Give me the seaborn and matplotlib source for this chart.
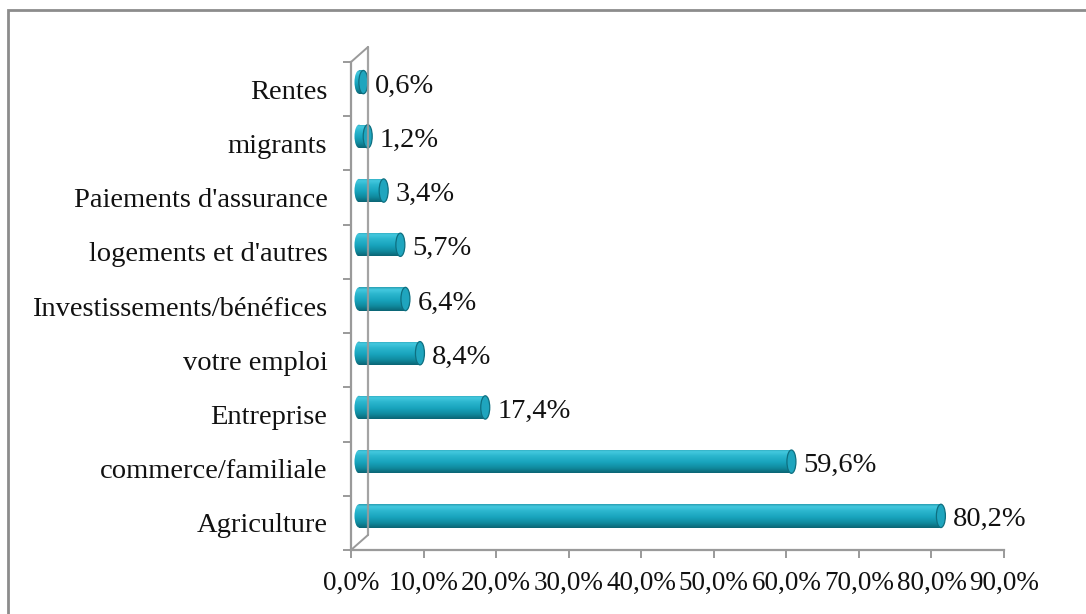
import numpy as np
import pandas as pd
import matplotlib
matplotlib.use("Agg")
import matplotlib.pyplot as plt
import matplotlib.transforms as mtrans
from matplotlib.patches import Ellipse, Rectangle, ConnectionPatch
from matplotlib.lines import Line2D
from matplotlib.colors import LinearSegmentedColormap
import seaborn as sns

categories = ["Rentes", "migrants", "Paiements d'assurance", "logements et d'autres",
              "Investissements/bénéfices", "votre emploi", "Entreprise",
              "commerce/familiale", "Agriculture"]
values = [0.6, 1.2, 3.4, 5.7, 6.4, 8.4, 17.4, 59.6, 80.2]
value_labels = ["0,6%", "1,2%", "3,4%", "5,7%", "6,4%", "8,4%", "17,4%", "59,6%", "80,2%"]
xticks = [0, 10, 20, 30, 40, 50, 60, 70, 80, 90]
xtick_labels = ["0,0%", "10,0%", "20,0%", "30,0%", "40,0%", "50,0%", "60,0%", "70,0%", "80,0%", "90,0%"]

df = pd.DataFrame({"cat": categories, "val": values})

sns.set_theme(style="white")
plt.rcParams["font.family"] = ["Liberation Serif", "DejaVu Serif"]
FS = 20.5

W, H, DPI = 1086, 614, 100
px = 1.0 / DPI
fig = plt.figure(figsize=(W / DPI, H / DPI), dpi=DPI)
ax = fig.add_axes([351 / W, (H - 550) / H, (1004 - 351) / W, (550 - 62) / H])

sns.barplot(data=df, x="val", y="cat", orient="h", color="#1a9db6", width=0.43,
            ax=ax, errorbar=None)
ax.set_xlim(0, 90)
ax.set_ylim(8.5, -0.5)

# 3D depth offset of the bars
off = ax.transData + mtrans.ScaledTranslation(8 * px, 7 * px, fig.dpi_scale_trans)
lab_off = off + mtrans.ScaledTranslation(12 * px, -4 * px, fig.dpi_scale_trans)

grad = np.linspace(0, 1, 64).reshape(-1, 1)
cyl = LinearSegmentedColormap.from_list("cyl", [
    (0.0, "#2a9fb3"), (0.1, "#44c9df"), (0.28, "#2cb6ce"), (0.55, "#18a4bd"),
    (0.8, "#10899d"), (1.0, "#0b6574")])

cap_w = 9 * 90 / (1004 - 351)  # cap ellipse width in data units
for i, p in enumerate(list(ax.patches)):
    x0, y0 = p.get_x(), p.get_y()
    w, h = p.get_width(), p.get_height()
    p.set_transform(off)
    p.set_facecolor("none")
    p.set_edgecolor("none")
    left = Ellipse((x0, y0 + h / 2), cap_w, h, transform=off, clip_on=False,
                   facecolor="none", edgecolor="none")
    ax.add_patch(left)
    ext = [x0 - cap_w, x0 + w, y0 + h, y0]
    for clip in (p, left):
        im = ax.imshow(grad, cmap=cyl, aspect="auto", extent=ext,
                       transform=off, zorder=3, interpolation="bilinear")
        im.set_clip_path(clip)
        im.set_clip_on(True)
    ax.add_patch(Ellipse((x0 + w, y0 + h / 2), cap_w, h, transform=off, clip_on=False,
                         facecolor="#1fa5be", edgecolor="#0e6f80", lw=0.9, zorder=4))
    ax.text(x0 + w, y0 + h / 2, value_labels[i], fontsize=FS, color="#111111",
            va="center", ha="left", clip_on=False, transform=lab_off)

ax.set_xlim(0, 90)
ax.set_ylim(8.5, -0.5)

gray = "#9a9a9a"
for s in ["top", "right"]:
    ax.spines[s].set_visible(False)
for s in ["left", "bottom"]:
    ax.spines[s].set_color(gray)
    ax.spines[s].set_linewidth(1.6)

ax.set_xticks(xticks)
ax.set_xticklabels(xtick_labels, fontsize=19.5, color="#111111")
ax.set_yticks(range(len(categories)))
ax.set_yticklabels(categories, fontsize=FS, color="#111111")
ax.set_yticks(np.arange(-0.5, len(categories), 1.0), minor=True)
ax.tick_params(axis="y", which="major", length=0, pad=17)
ax.tick_params(axis="y", which="minor", length=6, width=1.4, color=gray,
               direction="out", left=True)
ax.tick_params(axis="x", which="major", length=6, width=1.4, color=gray,
               direction="out", bottom=True, pad=9)
ax.set_xlabel("")
ax.set_ylabel("")

# 3D back wall (drawn over the bars, as in the reference)
wall = ax.transAxes + mtrans.ScaledTranslation(17 * px, 15 * px, fig.dpi_scale_trans)
ax.add_line(Line2D([0, 0], [0, 1], transform=wall, color=gray, lw=1.6,
                   clip_on=False, zorder=6, alpha=0.9))
for ya in (0, 1):
    fig.add_artist(ConnectionPatch(xyA=(0, ya), coordsA=ax.transAxes,
                                   xyB=(0, ya), coordsB=wall, color=gray, lw=1.4))

# outer frame (only left and top edges visible)
fig.add_artist(Rectangle((8 / W, -0.1), 1.2, (H - 10) / H + 0.1, transform=fig.transFigure,
                         fill=False, edgecolor="#8c8c8c", lw=2))

fig.savefig("out.png", dpi=DPI)
